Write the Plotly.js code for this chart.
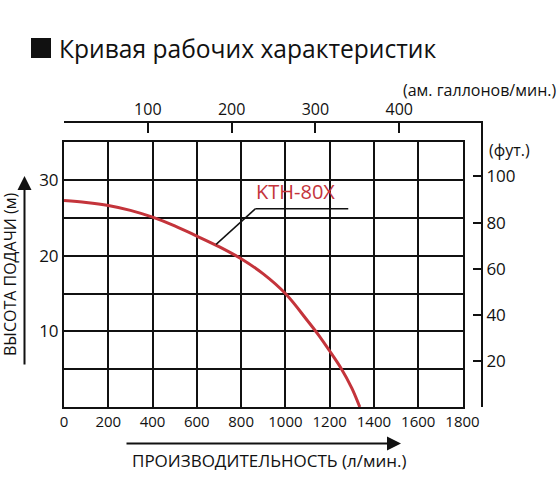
<!DOCTYPE html>
<html>
<head>
<meta charset="utf-8">
<script src="https://cdn.plot.ly/plotly-3.0.1.min.js"></script>
<style>
  html, body { margin: 0; padding: 0; background: #fff; }
  #chart { width: 560px; height: 504px; }
</style>
</head>
<body>
<div id="chart"></div>
<script>
// curve KTH-80X
const flowLpm = [0, 100, 200, 300, 400, 500, 600, 700, 800, 900, 1000, 1100, 1150, 1200, 1250, 1300, 1336];
const headM   = [27.3, 27.05, 26.65, 26.0, 25.1, 23.95, 22.6, 21.2, 19.6, 17.6, 15.0, 11.4, 9.5, 7.4, 5.2, 2.5, 0];

const flowTicks = [0, 200, 400, 600, 800, 1000, 1200, 1400, 1600, 1800];
const headTicks = [5, 10, 15, 20, 25, 30, 35];
const headTickText = ['', '10', '', '20', '', '30', ''];
const gallonTicks = [100, 200, 300, 400];
const feetTicks = [20, 40, 60, 80, 100];

const LPM_PER_GAL = 3.78541;
const FT_PER_M = 3.28084;

// layout geometry (px)
const W = 560, H = 504;
const M = { l: 64, r: 79, t: 123, b: 97 };
const PW = W - M.l - M.r, PH = H - M.t - M.b;
const xEnd = (462.5 - M.l) / PW;
const yEnd = (407 - 142.3) / PH;
const fx = px => (px - M.l) / PW;
const fy = py => (H - M.b - py) / PH;

const font = 'Open Sans, Noto Sans, sans-serif';
const red = '#c4343b';

const data = [
    {
        x: flowLpm, y: headM,
        type: 'scatter', mode: 'lines',
        line: { color: red, width: 3, shape: 'spline', smoothing: 1 },
        hoverinfo: 'skip', showlegend: false
    },
    {
        x: [], y: [], xaxis: 'x2', yaxis: 'y2',
        type: 'scatter', mode: 'lines', hoverinfo: 'skip', showlegend: false
    }
];

const layout = {
    width: W, height: H,
    margin: M,
    paper_bgcolor: '#fff',
    plot_bgcolor: 'rgba(0,0,0,0)',
    font: { family: font, color: '#111' },
    showlegend: false,
    title: {
        text: 'Кривая рабочих характеристик',
        font: { size: 24.6, color: '#111', family: font },
        xref: 'container', yref: 'container',
        x: 59 / W, xanchor: 'left',
        y: 1 - 49 / H, yanchor: 'middle'
    },
    xaxis: {
        domain: [0, xEnd], range: [0, 1800], fixedrange: true,
        tickvals: flowTicks, ticks: '',
        tickfont: { size: 15 },
        showgrid: true, gridcolor: '#111', gridwidth: 2,
        showline: true, mirror: true, linecolor: '#111', linewidth: 2,
        zeroline: false
    },
    yaxis: {
        domain: [0, yEnd], range: [0, 35], fixedrange: true,
        tickvals: headTicks, ticktext: headTickText, ticks: '',
        tickfont: { size: 17 },
        showgrid: true, gridcolor: '#111', gridwidth: 2,
        showline: true, mirror: true, linecolor: '#111', linewidth: 2,
        zeroline: false
    },
    xaxis2: {
        domain: [0, 1], anchor: 'y2', side: 'top',
        range: [0, 1800 / LPM_PER_GAL / xEnd], fixedrange: true,
        tickvals: gallonTicks, ticks: 'inside', ticklen: 10, tickwidth: 2, tickcolor: '#111',
        tickfont: { size: 16 },
        showgrid: false, zeroline: false,
        showline: true, linecolor: '#111', linewidth: 2
    },
    yaxis2: {
        domain: [0, 1], anchor: 'x2', side: 'right',
        range: [0, 35 * FT_PER_M / yEnd], fixedrange: true,
        tickvals: feetTicks, ticks: 'inside', ticklen: 8, tickwidth: 2, tickcolor: '#111',
        tickfont: { size: 17 },
        showgrid: false, zeroline: false,
        showline: true, linecolor: '#111', linewidth: 2
    },
    shapes: [
        // title bullet
        { type: 'rect', xref: 'paper', yref: 'paper',
          x0: fx(31), x1: fx(51), y0: fy(58), y1: fy(38),
          fillcolor: '#111', line: { width: 0 } },
        // label underline + leader
        { type: 'line', xref: 'x', yref: 'y', x0: 864, x1: 1284, y0: 26.2, y1: 26.2,
          line: { color: '#111', width: 1.5 } },
        { type: 'line', xref: 'x', yref: 'y', x0: 864, x1: 687, y0: 26.2, y1: 21.5,
          line: { color: '#111', width: 1.5 } }
    ],
    annotations: [
        { text: 'KTH-80X', xref: 'x', yref: 'y', x: 1047, y: 26.45,
          yanchor: 'bottom', showarrow: false, font: { size: 20, color: red } },
        { text: '(ам. галлонов/мин.)', xref: 'paper', yref: 'paper',
          x: fx(558), y: fy(90), xanchor: 'right', yanchor: 'middle',
          showarrow: false, font: { size: 16 } },
        { text: '(фут.)', xref: 'paper', yref: 'paper',
          x: fx(487), y: fy(150), xanchor: 'left', yanchor: 'middle',
          showarrow: false, font: { size: 16 } },
        { text: 'ВЫСОТА ПОДАЧИ (м)', xref: 'paper', yref: 'paper',
          x: fx(10), y: fy(274), textangle: -90,
          xanchor: 'center', yanchor: 'middle',
          showarrow: false, font: { size: 16 } },
        { text: 'ПРОИЗВОДИТЕЛЬНОСТЬ (л/мин.)', xref: 'paper', yref: 'paper',
          x: fx(269), y: fy(460), xanchor: 'center', yanchor: 'middle',
          showarrow: false, font: { size: 17 } },
        // axis arrows
        { text: '', xref: 'paper', yref: 'paper', x: fx(24.5), y: fy(176),
          showarrow: true, axref: 'pixel', ayref: 'pixel', ax: 0, ay: 190,
          arrowhead: 2, arrowsize: 1.4, arrowwidth: 2, arrowcolor: '#111' },
        { text: '', xref: 'paper', yref: 'paper', x: fx(401), y: fy(443.5),
          showarrow: true, axref: 'pixel', ayref: 'pixel', ax: -276, ay: 0,
          arrowhead: 2, arrowsize: 1.4, arrowwidth: 2, arrowcolor: '#111' }
    ]
};

Plotly.newPlot('chart', data, layout, { staticPlot: true, displayModeBar: false });
</script>
</body>
</html>
